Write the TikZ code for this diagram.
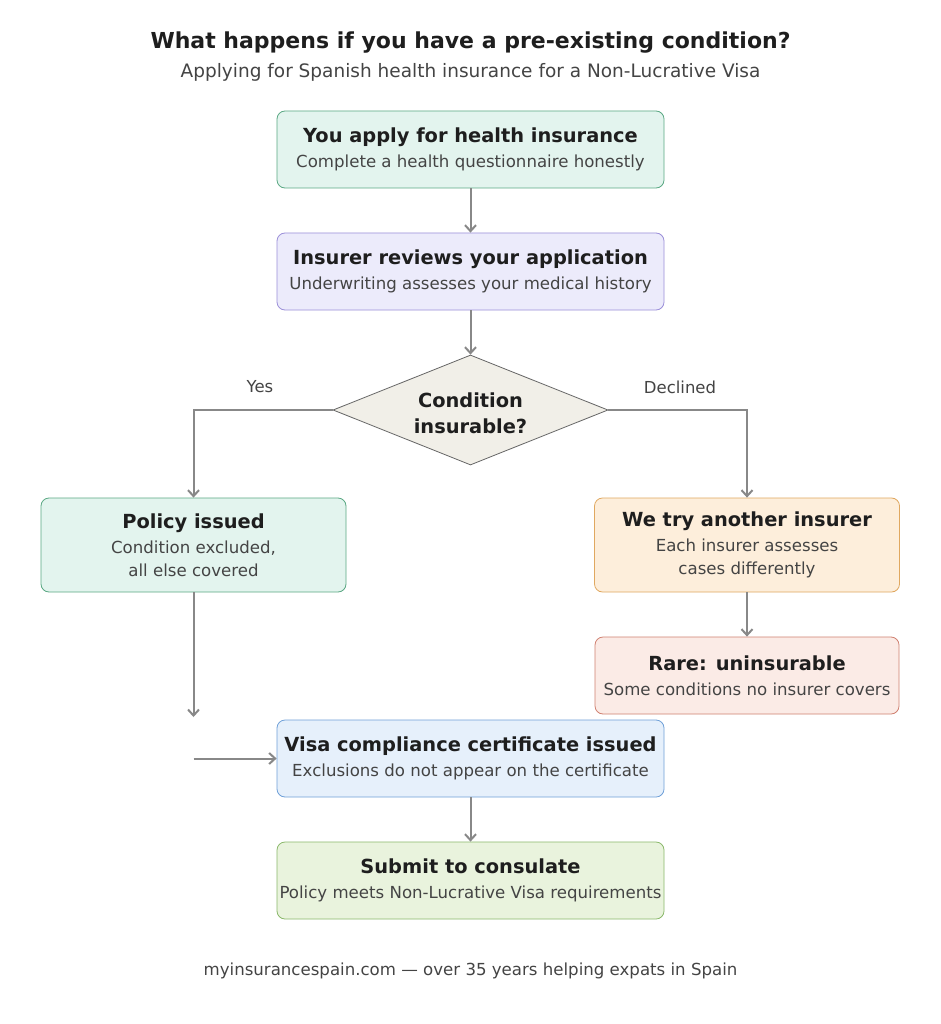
\documentclass[tikz,border=0pt]{standalone}
\usepackage{fontspec}
\setmainfont{DejaVu Sans}
\usetikzlibrary{shapes.geometric,arrows.meta}
\definecolor{tx}{HTML}{1E1E1E}
\definecolor{sub}{HTML}{444444}
\definecolor{gF}{HTML}{E3F4EE}\definecolor{gD}{HTML}{5AA883}
\definecolor{pF}{HTML}{ECEBFB}\definecolor{pD}{HTML}{9B8FD9}
\definecolor{dF}{HTML}{F1EFE8}\definecolor{dD}{HTML}{666666}
\definecolor{oF}{HTML}{FDEEDB}\definecolor{oD}{HTML}{E0A860}
\definecolor{rF}{HTML}{FBEBE6}\definecolor{rD}{HTML}{D08070}
\definecolor{bF}{HTML}{E6F0FB}\definecolor{bD}{HTML}{6FA0D8}
\definecolor{lF}{HTML}{E9F3DD}\definecolor{lD}{HTML}{8AB86A}
\definecolor{ar}{HTML}{888888}
\tikzset{
 box/.style={rounded corners=8pt,line width=0.8pt,minimum width=387pt,minimum height=77pt,align=center,text=tx,inner sep=0pt,font=\fontsize{16.6}{23}\selectfont},
 wbox/.style={box,minimum width=305pt,minimum height=94pt},
 arr/.style={draw=ar,line width=2pt,-{Straight Barb[length=6pt,width=11pt]}},
}
\newcommand{\hdt}[1]{{\fontsize{19.4}{23}\selectfont\bfseries #1}}
\newcommand{\sbt}[1]{{\fontsize{16.6}{23}\selectfont\color{sub}#1}}
\begin{document}
\begin{tikzpicture}[x=1pt,y=-1pt]
\useasboundingbox[fill=white] (0,0) rectangle (941,1024);
\node[text=tx] (title) at (470.5,43) {\fontsize{22}{26}\selectfont\bfseries What happens if you have a pre-existing condition?};
\node[text=sub] (subt) at (470.5,72) {\fontsize{18.5}{22}\selectfont Applying for Spanish health insurance for a Non-Lucrative Visa};
\node[box,fill=gF,draw=gD] (b1) at (470.5,149.5) {\hdt{You apply for health insurance}\\[2pt]\sbt{Complete a health questionnaire honestly}};
\node[box,fill=pF,draw=pD] (b2) at (470.5,271.5) {\hdt{Insurer reviews your application}\\[2pt]\sbt{Underwriting assesses your medical history}};
\node[diamond,aspect=2.5,fill=dF,draw=dD,line width=0.8pt,minimum width=275pt,minimum height=110pt,inner sep=0pt,text=tx] (d) at (470.5,410) {};
\node[align=center,text=tx,font=\fontsize{19.4}{26}\selectfont\bfseries] (dt) at (470.5,413) {Condition\\insurable?};
\node[wbox,fill=gF,draw=gD] (pol) at (193.5,545) {\hdt{Policy issued}\\[2pt]\sbt{Condition excluded,}\\\sbt{all else covered}};
\node[wbox,fill=oF,draw=oD] (try) at (747,545) {\hdt{We try another insurer}\\[2pt]\sbt{Each insurer assesses}\\\sbt{cases differently}};
\node[box,minimum width=304pt,fill=rF,draw=rD] (rare) at (747,675.5) {\hdt{Rare: uninsurable}\\[2pt]\sbt{Some conditions no insurer covers}};
\node[box,fill=bF,draw=bD] (visa) at (470.5,758.5) {\hdt{Visa compliance certificate issued}\\[2pt]\sbt{Exclusions do not appear on the certificate}};
\node[box,fill=lF,draw=lD] (sub) at (470.5,880.5) {\hdt{Submit to consulate}\\[2pt]\sbt{Policy meets Non-Lucrative Visa requirements}};
\node[text=sub] (foot) at (470.5,971) {\fontsize{16.6}{20}\selectfont myinsurancespain.com — over 35 years helping expats in Spain};
\coordinate (pe) at (193.5,717);
\coordinate (vs) at (193.5,758.5);
\coordinate (lc) at (193.5,410);
\coordinate (rc) at (747,410);
\draw[arr] (b1) -- (b2);
\draw[arr] (b2) -- (d);
\draw[arr] (d.west) -- (lc) -- (pol.north);
\draw[arr] (d.east) -- (rc) -- (try.north);
\node[text=sub] (yes) at (260,387) {\fontsize{16.5}{20}\selectfont Yes};
\node[text=sub] (dec) at (680,387) {\fontsize{16.5}{20}\selectfont Declined};
\draw[arr] (pol) -- (pe);
\draw[arr] (vs) -- (visa.west);
\draw[arr] (try) -- (rare);
\draw[arr] (visa) -- (sub);
\end{tikzpicture}
\end{document}
